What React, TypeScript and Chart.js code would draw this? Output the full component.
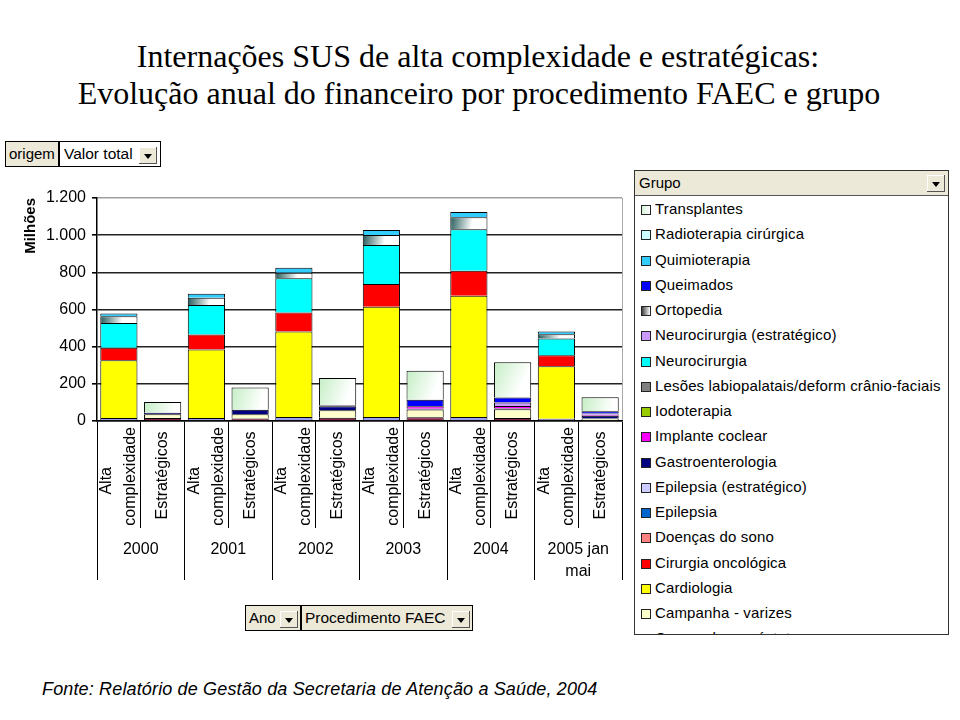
import React, { useEffect, useRef } from 'react';
import { Chart, registerables } from 'chart.js';

Chart.register(...registerables);

const SANS = '"Liberation Sans", Arial, Helvetica, sans-serif';
const SERIF = '"Liberation Serif", "Times New Roman", serif';

// ---- categories / tick labels ----
const years = ['2000', '2001', '2002', '2003', '2004', '2005 jan mai'];
const yearTickLabels: (string | string[])[] = ['2000', '2001', '2002', '2003', '2004', ['2005 jan', 'mai']];
const procedimentos = ['Alta complexidade', 'Estratégicos'];
const categories = years.flatMap((y) => procedimentos.map((p) => `${y} - ${p}`));
const yTickMin = 0;
const yTickMax = 1200;
const yTickStep = 200;

// ---- series values (milhões), one value per category, bottom of stack first ----
const campanhaCatarata = [16, 0, 16, 0, 22, 0, 22, 0, 22, 0, 12, 0];
const campanhaProstata = [0, 16, 0, 14, 0, 18, 0, 20, 0, 16, 0, 4];
const campanhaVarizes = [0, 20, 0, 22, 0, 40, 0, 42, 0, 47, 0, 10];
const cardiologia = [311, 0, 369, 0, 460, 0, 593, 0, 652, 0, 283, 0];
const cirurgiaOncologica = [67, 0, 81, 0, 102, 0, 122, 0, 135, 0, 59, 0];
const doencasDoSono = [0, 0, 0, 0, 0, 0, 0, 0, 0, 0, 0, 0];
const epilepsia = [0, 0, 0, 0, 0, 0, 0, 0, 0, 0, 0, 0];
const epilepsiaEstrategico = [0, 0, 0, 0, 0, 0, 0, 0, 0, 0, 0, 0];
const gastroenterologia = [0, 9, 0, 25, 0, 22, 0, 4, 0, 4, 0, 14];
const implanteCoclear = [0, 0, 0, 0, 0, 0, 0, 14, 0, 14, 0, 5];
const iodoterapia = [0, 0, 0, 0, 0, 0, 0, 0, 0, 0, 0, 0];
const lesoesLabiopalatais = [0, 0, 0, 0, 0, 0, 0, 0, 0, 0, 0, 0];
const neurocirurgia = [134, 0, 158, 0, 184, 0, 210, 0, 223, 0, 90, 0];
const neurocirurgiaEstrategico = [0, 0, 0, 0, 0, 5, 0, 0, 0, 18, 0, 8];
const ortopedia = [36, 0, 39, 0, 30, 0, 54, 0, 65, 0, 23, 0];
const queimados = [0, 0, 0, 0, 0, 0, 0, 35, 0, 27, 0, 12];
const quimioterapia = [15, 0, 22, 0, 27, 0, 27, 0, 28, 0, 15, 0];
const radioterapiaCirurgica = [0, 0, 0, 0, 0, 0, 0, 0, 0, 0, 0, 0];
const transplantes = [0, 57, 0, 119, 0, 147, 0, 155, 0, 190, 0, 75];

type Grad = { from: string; to: string; stop: number };
type Serie = { name: string; data: number[]; color: string; grad?: Grad; swatch?: string };

const series: Serie[] = [
  { name: 'Campanha - catarata', data: campanhaCatarata, color: '#9C9CF0' },
  { name: 'Campanha - próstata', data: campanhaProstata, color: '#8A2448' },
  { name: 'Campanha - varizes', data: campanhaVarizes, color: '#FFFFCC' },
  { name: 'Cardiologia', data: cardiologia, color: '#FFFF00' },
  { name: 'Cirurgia oncológica', data: cirurgiaOncologica, color: '#FF0000' },
  { name: 'Doenças do sono', data: doencasDoSono, color: '#FF8080' },
  { name: 'Epilepsia', data: epilepsia, color: '#0066CC' },
  { name: 'Epilepsia (estratégico)', data: epilepsiaEstrategico, color: '#CCCCFF' },
  { name: 'Gastroenterologia', data: gastroenterologia, color: '#000080' },
  { name: 'Implante coclear', data: implanteCoclear, color: '#FF00FF' },
  { name: 'Iodoterapia', data: iodoterapia, color: '#99CC00' },
  { name: 'Lesões labiopalatais/deform crânio-faciais', data: lesoesLabiopalatais, color: '#808080' },
  { name: 'Neurocirurgia', data: neurocirurgia, color: '#00FFFF' },
  { name: 'Neurocirurgia (estratégico)', data: neurocirurgiaEstrategico, color: '#CC99FF' },
  {
    name: 'Ortopedia', data: ortopedia, color: '#9FB5B5',
    grad: { from: '#245A5A', to: '#FFFFFF', stop: 0.6 },
    swatch: 'linear-gradient(90deg, #404040, #ffffff)',
  },
  { name: 'Queimados', data: queimados, color: '#0000FF' },
  { name: 'Quimioterapia', data: quimioterapia, color: '#33CCFF' },
  { name: 'Radioterapia cirúrgica', data: radioterapiaCirurgica, color: '#CCFFFF' },
  {
    name: 'Transplantes', data: transplantes, color: '#E0F8E0',
    grad: { from: '#C4EEC4', to: '#FFFFFF', stop: 0.85 },
    swatch: 'linear-gradient(90deg, #d8f4d8, #ffffff)',
  },
];

const fmtThousands = (v: number) => String(v).replace(/\B(?=(\d{3})+(?!\d))/g, '.');

function gradientFill(c: any, s: Serie) {
  const g = s.grad as Grad;
  const chart = c.chart;
  const xs = chart.scales?.x;
  const ys = chart.scales?.y;
  if (c.type !== 'data' || !xs || !ys || c.dataIndex === undefined) return s.color;
  const idx = c.dataIndex;
  let base = 0;
  for (let k = 0; k < c.datasetIndex; k++) base += series[k].data[idx] || 0;
  const v = s.data[idx] || 0;
  const cx = xs.getPixelForValue(idx);
  const w = (xs.width / categories.length) * 0.85;
  const yTop = ys.getPixelForValue(base + v);
  const yBot = ys.getPixelForValue(base);
  const x0 = cx - w / 2;
  const x1 = cx + w / 2;
  const y1 = yTop + (yBot - yTop) * 0.5;
  if (![x0, x1, yTop, y1].every((n) => Number.isFinite(n)) || w <= 0) return s.color;
  const grad = chart.ctx.createLinearGradient(x0, yTop, x1, y1);
  grad.addColorStop(0, g.from);
  grad.addColorStop(g.stop, g.to);
  grad.addColorStop(1, g.to);
  return grad;
}

const BEIGE = '#ECE9D8';

const ArrowBtn = ({ left, top, w = 18, h = 17 }: { left: number; top: number; w?: number; h?: number }) => (
  <div
    style={{
      position: 'absolute', left, top, width: w, height: h, background: BEIGE,
      boxShadow: 'inset -1px -1px #555, inset 1px 1px #fff',
    }}
  >
    <div
      style={{
        position: 'absolute', left: (w - 9) / 2, top: (h - 5) / 2 + 1, width: 0, height: 0,
        borderLeft: '4.5px solid transparent', borderRight: '4.5px solid transparent', borderTop: '5px solid #000',
      }}
    />
  </div>
);

const boxText: React.CSSProperties = {
  position: 'absolute', fontFamily: SANS, fontSize: 15, color: '#000', whiteSpace: 'nowrap', boxSizing: 'border-box',
};

export default function App() {
  const canvasRef = useRef<HTMLCanvasElement | null>(null);

  useEffect(() => {
    const canvas = canvasRef.current;
    if (!canvas) return;
    const datasets = series.map((s) => ({
      label: s.name,
      data: s.data.map((v) => (v === 0 ? null : v)),
      backgroundColor: s.grad ? (c: any) => gradientFill(c, s) : s.color,
      borderColor: '#000',
      borderWidth: 1,
      barPercentage: 0.85,
      categoryPercentage: 1,
      xAxisID: 'x',
      yAxisID: 'y',
    }));

    const labelFont = { family: SANS, size: 16 };
    const rotatedLabelAxis = (offset: number, cb: (i: number) => string | string[]) => ({
      type: 'category',
      position: { y: 0 },
      offset: true,
      grid: { display: false, drawTicks: false },
      border: { display: false },
      ticks: {
        autoSkip: false,
        minRotation: 90,
        maxRotation: 90,
        padding: 6,
        labelOffset: offset,
        color: '#000',
        font: { family: SANS, size: 16, lineHeight: 1.5 },
        callback: (_v: any, i: number) => cb(i),
      },
    });

    const chart = new Chart(canvas, {
      type: 'bar',
      data: { labels: categories, datasets: datasets as any },
      options: {
        animation: false,
        responsive: false,
        devicePixelRatio: 1,
        layout: { padding: { top: 18, right: 18, left: 0, bottom: 0 } },
        plugins: { legend: { display: false }, tooltip: { enabled: false }, title: { display: false } },
        scales: {
          y: {
            type: 'linear',
            position: 'left',
            stacked: true,
            min: yTickMin,
            max: yTickMax,
            afterFit: (s: any) => { s.width = 97; },
            ticks: {
              stepSize: yTickStep,
              color: '#000',
              padding: 6,
              font: labelFont,
              callback: (v: any) => fmtThousands(Number(v)),
            },
            grid: {
              color: (c: any) => (c.tick && c.tick.value === yTickMax ? '#a0a0a0' : '#222'),
              lineWidth: 1.6,
              tickLength: 5,
              tickColor: '#000',
            },
            border: { display: true, color: '#000', width: 1.5 },
            title: {
              display: true,
              text: 'Milhões',
              align: 'end',
              color: '#000',
              font: { family: SANS, size: 15, weight: 'bold' },
              padding: { top: 22, bottom: 0 },
            },
          },
          y2: {
            type: 'linear',
            position: 'right',
            min: yTickMin,
            max: yTickMax,
            afterFit: (s: any) => { s.width = 0; },
            ticks: { display: false },
            grid: { display: false, drawTicks: false },
            border: { display: true, color: '#a8a8a8', width: 1 },
          },
          xA: rotatedLabelAxis(-12, (i) => {
            if (i % 2 !== 0) return '';
            const words = procedimentos[0].split(' ');
            return [words[0] + '         ', words[1]];
          }),
          xE: rotatedLabelAxis(0, (i) => (i % 2 === 1 ? procedimentos[1] + ' ' : '')),
          x: {
            type: 'category',
            position: 'bottom',
            stacked: true,
            offset: true,
            weight: 1,
            afterFit: (s: any) => { s.height = 107; },
            ticks: { display: false },
            grid: {
              display: true,
              drawOnChartArea: false,
              drawTicks: true,
              tickLength: 107,
              offset: true,
              color: '#000',
              lineWidth: 1,
            },
            border: { display: true, color: '#000', width: 1.5 },
          },
          xY: {
            type: 'category',
            position: 'bottom',
            labels: yearTickLabels as any,
            offset: true,
            weight: 2,
            afterFit: (s: any) => { s.height = 72; },
            grid: {
              display: true,
              drawOnChartArea: false,
              drawTicks: true,
              tickLength: 52,
              offset: true,
              color: '#000',
              lineWidth: 1,
            },
            border: { display: false },
            ticks: {
              autoSkip: false,
              minRotation: 0,
              maxRotation: 0,
              padding: -41,
              color: '#000',
              font: { family: SANS, size: 16, lineHeight: 1.35 },
            },
          },
        } as any,
      },
    });
    return () => chart.destroy();
  }, []);

  const legendItems = [...series].reverse();

  return (
    <div style={{ position: 'absolute', left: 0, top: 0, width: 960, height: 720, background: '#fff', overflow: 'hidden' }}>
      {/* Title */}
      <div style={{ position: 'absolute', left: 0, width: 956, top: 40, textAlign: 'center', fontFamily: SERIF, fontSize: 32, lineHeight: '32px', color: '#000', whiteSpace: 'nowrap' }}>
        Internações SUS de alta complexidade e estratégicas:
      </div>
      <div style={{ position: 'absolute', left: 0, width: 958, top: 77, textAlign: 'center', fontFamily: SERIF, fontSize: 32, lineHeight: '32px', color: '#000', whiteSpace: 'nowrap' }}>
        Evolução anual do financeiro por procedimento FAEC e grupo
      </div>

      {/* Page field */}
      <div style={{ ...boxText, left: 5, top: 141, width: 54, height: 26, background: BEIGE, border: '1px solid #000', paddingLeft: 3, lineHeight: '23px' }}>
        origem
      </div>
      <div style={{ ...boxText, left: 59, top: 141, width: 102, height: 26, background: '#fff', border: '1px solid #000', paddingLeft: 4, lineHeight: '23px', fontSize: 15.5 }}>
        Valor total
      </div>
      <ArrowBtn left={139} top={147} w={18} h={17} />

      {/* Chart */}
      <canvas ref={canvasRef} width={640} height={420} style={{ position: 'absolute', left: 0, top: 180, width: 640, height: 420 }} />

      {/* Row fields */}
      <div style={{ ...boxText, left: 245, top: 605, width: 56, height: 26, background: BEIGE, border: '1px solid #000', paddingLeft: 3, lineHeight: '23px' }}>
        Ano
      </div>
      <ArrowBtn left={280} top={611} w={18} h={17} />
      <div style={{ ...boxText, left: 301, top: 605, width: 172, height: 26, background: BEIGE, border: '1px solid #000', paddingLeft: 3, lineHeight: '23px', fontSize: 15.5 }}>
        Procedimento FAEC
      </div>
      <ArrowBtn left={452} top={611} w={18} h={17} />

      {/* Legend (series field) */}
      <div style={{ position: 'absolute', left: 634, top: 170, width: 315, height: 465, border: '1px solid #333', boxSizing: 'border-box', background: '#fff', overflow: 'hidden' }}>
        <div style={{ ...boxText, position: 'absolute', left: 0, top: 0, width: 313, height: 25, background: BEIGE, borderBottom: '1px solid #555', paddingLeft: 4, lineHeight: '24px' }}>
          Grupo
        </div>
        <ArrowBtn left={292} top={4} w={18} h={17} />
        {legendItems.map((s, i) => (
          <div key={s.name} style={{ ...boxText, position: 'absolute', left: 6, top: 25 + i * 25.25, height: 25, lineHeight: '25px', letterSpacing: 0.15 }}>
            <span
              style={{
                display: 'inline-block', width: 10, height: 10, boxSizing: 'border-box', border: '1px solid #222',
                background: s.swatch || s.color, marginRight: 4, verticalAlign: '-1px',
              }}
            />
            {s.name}
          </div>
        ))}
      </div>

      {/* Source */}
      <div style={{ position: 'absolute', left: 42, top: 678, fontFamily: SANS, fontStyle: 'italic', fontSize: 18, letterSpacing: 0.15, lineHeight: '22px', color: '#000', whiteSpace: 'nowrap' }}>
        Fonte: Relatório de Gestão da Secretaria de Atenção a Saúde, 2004
      </div>
    </div>
  );
}
